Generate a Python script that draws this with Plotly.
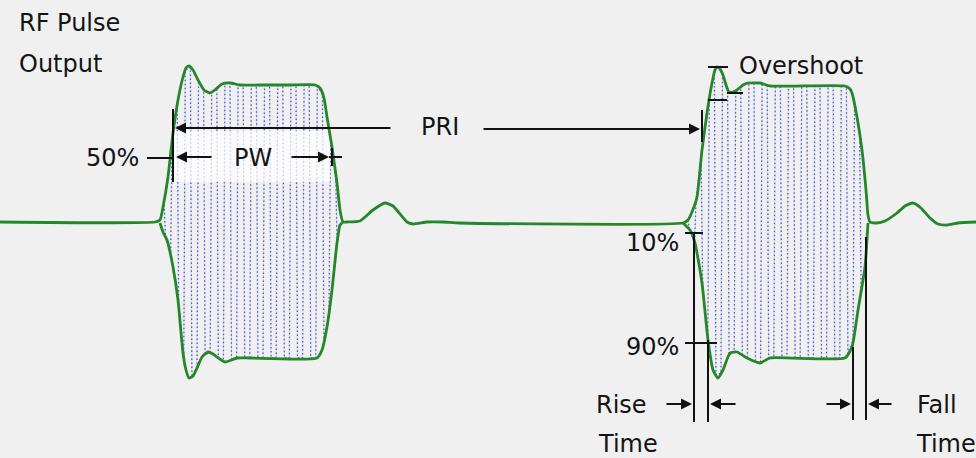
import numpy as np
import plotly.graph_objects as go

# ---- data (diagram coordinates: x → right, y → down) ----
upper_x = [0, 155, 160, 163, 168, 173, 178, 183, 186, 189, 193, 198, 204, 210, 216, 222, 230, 240, 260, 290, 315,
           320, 324, 327, 332, 337, 340, 343, 347, 360, 373, 385, 393, 407, 413, 427, 443, 460,
           683, 688, 692, 697, 702, 707, 712, 715, 717, 720, 723, 726, 729, 733, 737, 743, 748, 760, 770, 845,
           850, 852, 857, 862, 866, 868, 870, 877, 885, 897, 905, 913, 921, 930, 938, 947, 958, 976]
upper_y = [222, 222, 220, 207, 177, 133, 100, 77, 68, 66, 70, 80, 90, 93, 89, 84, 83, 85, 85, 85, 85,
           88, 98, 117, 147, 183, 210, 222, 222, 221, 210, 203, 206, 222, 224, 222, 222, 223,
           223, 220, 212, 197, 150, 113, 83, 70, 67, 69, 75, 85, 92, 92, 90, 85, 83, 83, 86, 86,
           89, 93, 117, 150, 190, 215, 222, 223, 221, 213, 206, 203, 208, 218, 224, 225, 223, 222]

lower1_x = [160, 163, 167, 173, 178, 183, 186, 189, 193, 197, 202, 208, 213, 217, 225, 237, 250, 317, 322, 327, 332, 337, 340, 343]
lower1_y = [223, 232, 240, 267, 300, 353, 370, 378, 376, 368, 357, 352, 354, 357, 362, 358, 358, 358, 350, 327, 290, 243, 225, 222]

lower2_x = [683, 690, 695, 702, 708, 713, 718, 723, 730, 737, 747, 760, 770, 845, 852, 858, 865, 868]
lower2_y = [223, 230, 243, 283, 340, 370, 378, 370, 353, 352, 358, 363, 358, 358, 347, 310, 267, 223]

pulse_spans = [(164, 341), (688, 866)]
carrier_spacing = 6.6
carrier_slant = 1.5

band_x = [173, 330, 330, 173, 173]
band_y = [131, 131, 182, 182, 131]

GREEN = "#25862a"
BLUE = "#4f5ad6"
FONT = "DejaVu Sans"

fig = go.Figure()

# carrier strokes between the envelopes
cx, cy = [], []
for (a, b), lx, ly in zip(pulse_spans, [lower1_x, lower2_x], [lower1_y, lower2_y]):
    xs = np.arange(a, b, carrier_spacing)
    for k, x in enumerate(xs):
        x2 = x + carrier_slant
        up1, up2 = np.interp([x, x2], upper_x, upper_y)
        lo1, lo2 = np.interp([x, x2], lx, ly)
        if k % 2 == 0:
            cx += [float(x), float(x2)]; cy += [float(up1), float(lo2)]
        else:
            cx += [float(x), float(x2)]; cy += [float(lo1), float(up2)]
    cx.append(None); cy.append(None)
fig.add_trace(go.Scatter(x=cx, y=cy, mode="lines", line=dict(color="rgba(110,120,230,0.3)", width=0.7),
                         hoverinfo="skip", showlegend=False))
fig.add_trace(go.Scatter(x=cx, y=cy, mode="lines", line=dict(color=BLUE, width=1.3, dash="1.5px,2.5px"),
                         hoverinfo="skip", showlegend=False))

# light band behind PW
fig.add_trace(go.Scatter(x=band_x, y=band_y, mode="lines", fill="toself",
                         fillcolor="rgba(255,255,255,0.72)", line=dict(width=0),
                         hoverinfo="skip", showlegend=False))

# envelopes
for xs, ys in [(upper_x, upper_y), (lower1_x, lower1_y), (lower2_x, lower2_y)]:
    fig.add_trace(go.Scatter(x=xs, y=ys, mode="lines", line=dict(color=GREEN, width=2.8, shape="spline", smoothing=0.5),
                             hoverinfo="skip", showlegend=False))

# ---- straight annotation lines ----
lines = [
    (173, 109, 173, 182),   # left PRI/PW bar
    (702, 110, 702, 142),   # right PRI bar
    (147, 158, 173, 158),   # 50% leader
    (329, 157, 342, 157),   # PW right tick
    (332, 148, 332, 166),
    (708, 67, 728, 67),     # overshoot ticks
    (708, 100, 727, 100),
    (727, 93, 743, 93),
    (685, 233, 703, 233),   # 10%
    (685, 343, 717, 343),   # 90%
    (694, 233, 694, 422),   # rise verticals
    (708, 340, 708, 422),
    (853, 347, 853, 420),   # fall verticals
    (866, 237, 866, 420),
]
for x0, y0, x1, y1 in lines:
    fig.add_shape(type="line", x0=x0, y0=y0, x1=x1, y1=y1, xref="x", yref="y",
                  line=dict(color="#111111", width=2))

arrows = [
    (175, 128, 392, 128),
    (700, 129, 482, 129),
    (176, 157, 213, 157),
    (329, 157, 290, 157),
    (692, 404, 665, 404),
    (710, 404, 737, 404),
    (851, 404, 825, 404),
    (868, 404, 893, 404),
]
for hx, hy, tx, ty in arrows:
    fig.add_annotation(x=hx, y=hy, ax=tx, ay=ty, xref="x", yref="y", axref="x", ayref="y",
                       text="", showarrow=True, arrowhead=2, arrowsize=1.1, arrowwidth=2,
                       arrowcolor="#111111", standoff=0, startstandoff=0)

texts = [
    ("RF Pulse", 17, 23, "left"),
    ("Output", 17, 64, "left"),
    ("PRI", 440, 127, "center"),
    ("50%", 141, 158, "right"),
    ("PW", 253, 158, "center"),
    ("Overshoot", 737, 66, "left"),
    ("10%", 681, 243, "right"),
    ("90%", 681, 347, "right"),
    ("Rise", 594, 405, "left"),
    ("Time", 596, 444, "left"),
    ("Fall", 915, 405, "left"),
    ("Time", 914, 444, "left"),
]
for t, x, y, anc in texts:
    fig.add_annotation(x=x, y=y, xref="x", yref="y", text=t, showarrow=False,
                       xanchor=anc, yanchor="middle",
                       font=dict(family=FONT, size=24, color="#141414"))

fig.update_xaxes(range=[0, 976], visible=False, fixedrange=True)
fig.update_yaxes(range=[458, 0], visible=False, fixedrange=True)
fig.update_layout(width=976, height=458, margin=dict(l=0, r=0, t=0, b=0),
                  paper_bgcolor="#f0f0f0", plot_bgcolor="#f0f0f0")

fig.write_html("out.html", config={"displayModeBar": False},
               post_script="document.body.style.margin='0';document.body.style.overflow='hidden';"
                           "document.body.style.background='#f0f0f0';")
